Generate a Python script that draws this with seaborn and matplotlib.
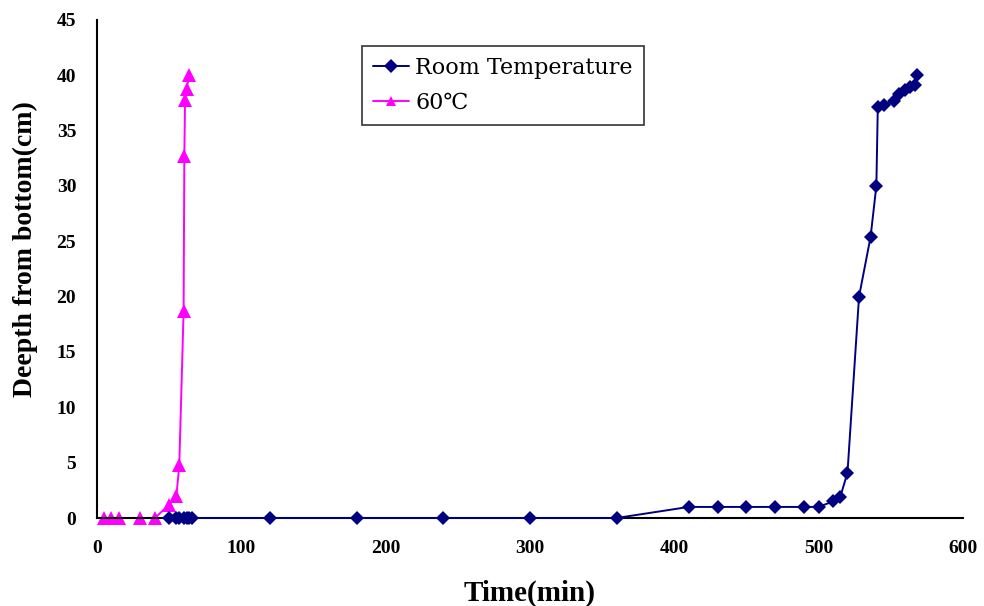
import numpy as np
import pandas as pd
import matplotlib
matplotlib.use("Agg")
import matplotlib.pyplot as plt
import seaborn as sns

# ---- data ----
rt_time = [50, 55, 57, 60, 62, 64, 66, 120, 180, 240, 300, 360,
           410, 430, 450, 470, 490, 500, 510, 515, 520, 528, 536,
           540, 541, 545, 552, 556, 560, 563, 567, 568]
rt_depth = [0, 0, 0, 0, 0, 0, 0, 0, 0, 0, 0, 0,
            1, 1, 1, 1, 1, 1, 1.5, 1.9, 4.1, 20, 25.4,
            30, 37.1, 37.3, 37.7, 38.3, 38.7, 38.9, 39.1, 40]

hot_time = [5, 10, 15, 30, 40, 50, 55, 57, 60, 60.5, 61, 62, 64]
hot_depth = [0, 0, 0, 0, 0, 1.2, 2, 4.8, 18.7, 32.7, 37.8, 38.8, 40]

series_names = ["Room Temperature", "60℃"]
x_ticks = [0, 100, 200, 300, 400, 500, 600]
y_ticks = [0, 5, 10, 15, 20, 25, 30, 35, 40, 45]

df = pd.concat([
    pd.DataFrame({"Time": rt_time, "Depth": rt_depth, "Series": series_names[0]}),
    pd.DataFrame({"Time": hot_time, "Depth": hot_depth, "Series": series_names[1]}),
], ignore_index=True)

sns.set_theme(style="white")
plt.rcParams["font.family"] = ["DejaVu Serif", "DejaVu Sans"]

fig = plt.figure(figsize=(9.84, 6.06), dpi=100)
ax = fig.add_axes([0.0986, 0.1452, 0.88, 0.822])

palette = {series_names[0]: "#000080", series_names[1]: "#FF00FF"}
markers = {series_names[0]: "D", series_names[1]: "^"}
sns.lineplot(data=df, x="Time", y="Depth", hue="Series", style="Series",
             hue_order=series_names, style_order=series_names,
             palette=palette, markers=markers, dashes=False,
             sort=False, estimator=None, linewidth=1.4,
             markersize=7.5, markeredgewidth=0, ax=ax)

for ln in ax.get_lines():
    ln.set_clip_on(False)
    if ln.get_marker() == "^":
        ln.set_markersize(10)
        ln.set_zorder(2.5)
    else:
        ln.set_zorder(3)

ax.set_xlim(0, 600)
ax.set_ylim(0, 45)
ax.set_xticks(x_ticks)
ax.set_yticks(y_ticks)
ax.set_xticklabels([str(t) for t in x_ticks], fontsize=14, fontweight="bold",
                   family="Liberation Serif")
ax.set_yticklabels([str(t) for t in y_ticks], fontsize=14, fontweight="bold",
                   family="Liberation Serif")
ax.tick_params(axis="both", direction="in", length=5, width=1.2, colors="black")
ax.tick_params(axis="x", pad=16)
ax.tick_params(axis="y", pad=15)

for s in ["top", "right"]:
    ax.spines[s].set_visible(False)
for s in ["left", "bottom"]:
    ax.spines[s].set_color("black")
    ax.spines[s].set_linewidth(1.5)

ax.set_xlabel("Time(min)", fontsize=21, fontweight="bold", family="Liberation Serif",
              labelpad=16, color="black")
ax.set_ylabel("Deepth from bottom(cm)", fontsize=20, fontweight="bold",
              family="Liberation Serif", labelpad=14, color="black")
ax.yaxis.set_label_coords(-0.068, 0.54)

leg = ax.legend(loc="upper left", bbox_to_anchor=(0.306, 0.948), borderaxespad=0,
                frameon=True, fancybox=False, edgecolor="black",
                prop={"family": ["DejaVu Serif", "DejaVu Sans"], "size": 16},
                handlelength=1.6, borderpad=0.5, labelspacing=0.6, handletextpad=0.3)
leg.get_frame().set_linewidth(1.2)
for t in leg.get_texts():
    t.set_color("black")
for h in leg.legend_handles:
    h.set_markersize(7)

fig.savefig("out.png", dpi=100)
